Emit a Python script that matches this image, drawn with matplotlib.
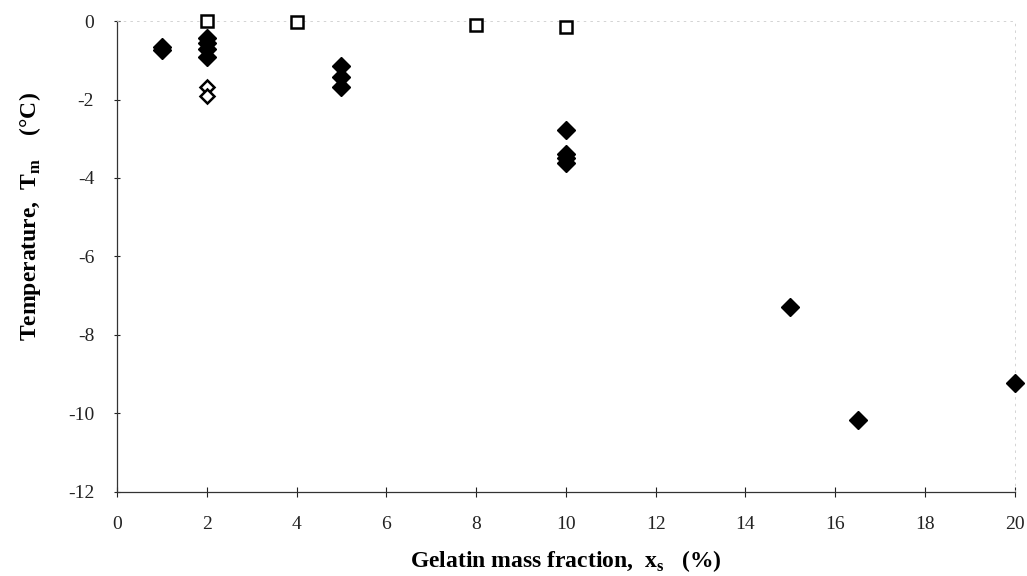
import matplotlib
matplotlib.use("Agg")
import matplotlib.pyplot as plt

# Filled diamonds (measured Tm)
filled_x = [1, 1, 2, 2, 2, 2, 5, 5, 5, 10, 10, 10, 10, 15, 16.5, 20]
filled_y = [-0.65, -0.75, -0.42, -0.56, -0.72, -0.92, -1.15, -1.43, -1.67,
            -2.77, -3.38, -3.5, -3.62, -7.3, -10.18, -9.22]
# Open squares
square_x = [2, 4, 8, 10]
square_y = [0.0, -0.03, -0.1, -0.14]
# Open diamonds
open_x = [2, 2]
open_y = [-1.68, -1.9]

xticks = list(range(0, 21, 2))
yticks = list(range(-12, 1, 2))

plt.rcParams['font.family'] = ['Liberation Serif', 'DejaVu Serif']

fig = plt.figure(figsize=(10.27, 5.76), dpi=100)
ax = fig.add_axes([0.114, 0.146, 0.874, 0.8175])

ax.plot(filled_x, filled_y, linestyle='none', marker='D', markersize=9,
        color='black', markeredgecolor='black', clip_on=False, zorder=3)
ax.plot(square_x, square_y, linestyle='none', marker='s', markersize=9,
        markerfacecolor='white', markeredgecolor='black', markeredgewidth=1.8,
        clip_on=False, zorder=3)
ax.plot(open_x, open_y, linestyle='none', marker='D', markersize=7.5,
        markerfacecolor='white', markeredgecolor='black', markeredgewidth=1.8,
        clip_on=False, zorder=3)

ax.set_xlim(0, 20)
ax.set_ylim(-12, 0)
ax.set_xticks(xticks)
ax.set_yticks(yticks)
ax.set_xticklabels([str(t) for t in xticks])
ax.set_yticklabels([str(t) for t in yticks])

for s in ['left', 'bottom']:
    ax.spines[s].set_linewidth(0.9)
    ax.spines[s].set_color('#333333')
for s in ['top', 'right']:
    ax.spines[s].set_linewidth(0.6)
    ax.spines[s].set_color('#cccccc')
    ax.spines[s].set_linestyle((0, (2, 6)))

ax.tick_params(axis='x', direction='inout', length=7, width=0.8, pad=14,
               labelsize=14, colors='#222222')
ax.tick_params(axis='y', direction='inout', length=5, width=0.8, pad=14,
               labelsize=14, colors='#222222')

ax.set_xlabel('Gelatin mass fraction,  x$_\\mathregular{s}$   (%)',
              fontsize=17, fontweight='bold')
ax.set_ylabel('Temperature,  T$_\\mathregular{m}$    (°C)',
              fontsize=17, fontweight='bold')
ax.xaxis.set_label_coords(0.5, -0.12)
ax.yaxis.set_label_coords(-0.082, 0.585)

fig.savefig('out.png', dpi=100, facecolor='white')
